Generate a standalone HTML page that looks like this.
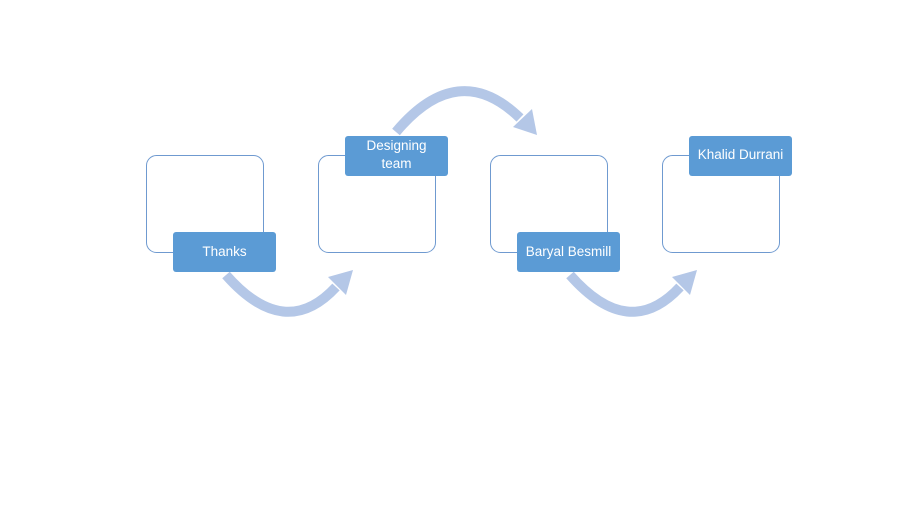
<!DOCTYPE html>
<html><head><meta charset="utf-8"><style>
html,body{margin:0;padding:0;background:#fff;}
svg{display:block;}
text{font-family:"Liberation Sans",sans-serif;font-size:13.5px;fill:#fff;}
</style></head><body>
<svg width="916" height="511" viewBox="0 0 916 511" xmlns="http://www.w3.org/2000/svg">
<rect width="916" height="511" fill="#fff"/>
<g fill="#fff" stroke="#6f9ad0" stroke-width="1">
<rect x="146.5" y="155.5" width="117" height="97" rx="10"/>
<rect x="318.5" y="155.5" width="117" height="97" rx="10"/>
<rect x="490.5" y="155.5" width="117" height="97" rx="10"/>
<rect x="662.5" y="155.5" width="117" height="97" rx="10"/>
</g>
<g fill="none" stroke="#b4c7e7" stroke-width="10">
<path d="M226,275 Q285,342 336,287"/>
<path d="M396,132 Q458,58 520,118"/>
<path d="M570,275 Q629,342 680,287"/>
</g>
<g fill="#b4c7e7">
<polygon points="353,270 328,277 346,295"/>
<polygon points="537,135 532,109 513,127"/>
<polygon points="697,270 672,277 690,295"/>
</g>
<g fill="#5b9bd5">
<rect x="173" y="232" width="103" height="40" rx="3"/>
<rect x="345" y="136" width="103" height="40" rx="3"/>
<rect x="517" y="232" width="103" height="40" rx="3"/>
<rect x="689" y="136" width="103" height="40" rx="3"/>
</g>
<text x="224.5" y="256" text-anchor="middle">Thanks</text>
<text x="396.5" y="150" text-anchor="middle">Designing</text>
<text x="396.5" y="168" text-anchor="middle">team</text>
<text x="568.5" y="256" text-anchor="middle">Baryal Besmill</text>
<text x="740.5" y="159" text-anchor="middle">Khalid Durrani</text>
</svg>
</body></html>
